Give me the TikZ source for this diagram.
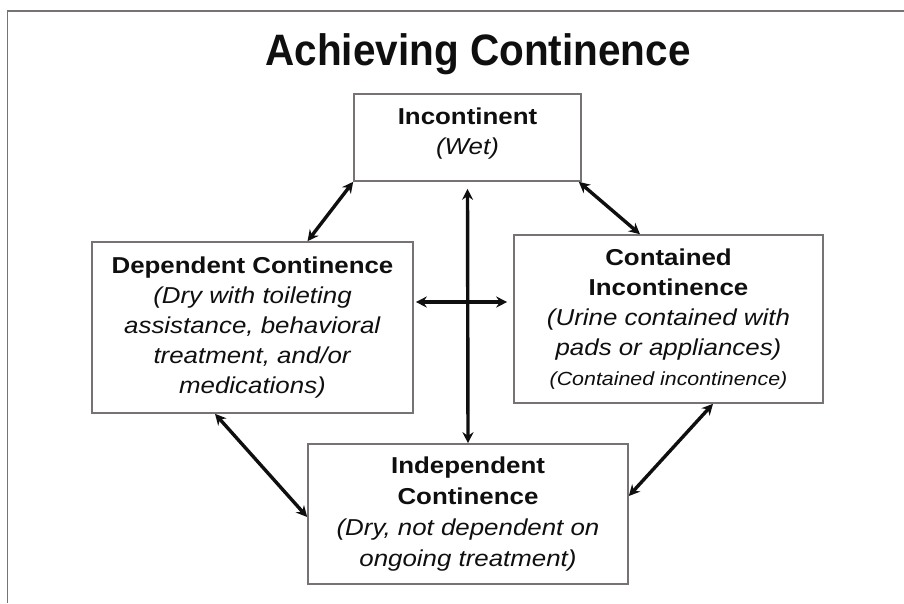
\documentclass[tikz,border=0pt]{standalone}
\usepackage{fontspec}
\setmainfont{Liberation Sans}[FakeStretch=1.125]
\newfontfamily\titlefont{Liberation Sans}[FakeStretch=0.92]
\usetikzlibrary{arrows.meta}
\definecolor{boxgray}{RGB}{120,115,115}
\definecolor{ink}{RGB}{15,15,15}
\begin{document}
\begin{tikzpicture}[x=1pt,y=-1pt,
  box/.style={draw=boxgray, line width=1.6pt, inner sep=0pt, align=center, text=ink,
    font=\fontsize{23}{30}\selectfont},
  link/.style={{Stealth[length=11pt,width=11pt]}-{Stealth[length=11pt,width=11pt]}, line width=3.4pt, draw=ink}
]
\useasboundingbox[fill=white] (0,0) rectangle (904,603);
\draw[boxgray, line width=1.6pt] (7.5,603) -- (7.5,11) -- (904,11);

\node[anchor=base, text=ink, font=\titlefont\bfseries\fontsize{44}{50}\selectfont] (title) at (478,65) {Achieving Continence};

\node[box, minimum width=227pt, minimum height=87pt] (inc) at (467.5,137.5)
  {\textbf{Incontinent}\\\textit{(Wet)}\rule[-13pt]{0pt}{0pt}};
\node[box, minimum width=321pt, minimum height=171pt] (dep) at (252.5,327.5)
  {\textbf{Dependent Continence}\\\textit{(Dry with toileting}\\\textit{assistance, behavioral}\\\textit{treatment, and/or}\\\textit{medications)}};
\node[box, minimum width=309pt, minimum height=168pt] (con) at (668.5,319)
  {\textbf{Contained}\\\textbf{Incontinence}\\\textit{(Urine contained with}\\\textit{pads or appliances)}\\{\fontsize{19}{24}\selectfont\textit{(Contained incontinence)}}};
\node[box, minimum width=320pt, minimum height=140pt, font=\fontsize{23}{31}\selectfont] (ind) at (468,514)
  {\textbf{Independent}\\\textbf{Continence}\\\textit{(Dry, not dependent on}\\\textit{ongoing treatment)}};

\draw[link] (inc.south west) -- ([xshift=55pt]dep.north);
\draw[link] ([xshift=-3pt]inc.south east) -- ([xshift=-28.5pt]con.north);
\draw[link] ([yshift=-7pt]inc.south) -- (ind.north);
\draw[link] ([xshift=2pt,yshift=25.5pt]dep.east) -- ([xshift=-6pt,yshift=17pt]con.west);
\draw[link] ([xshift=-37.5pt]dep.south) -- ([yshift=-3pt]ind.west);
\draw[link] ([xshift=44.5pt]con.south) -- ([yshift=18pt]ind.east);
\end{tikzpicture}
\end{document}
